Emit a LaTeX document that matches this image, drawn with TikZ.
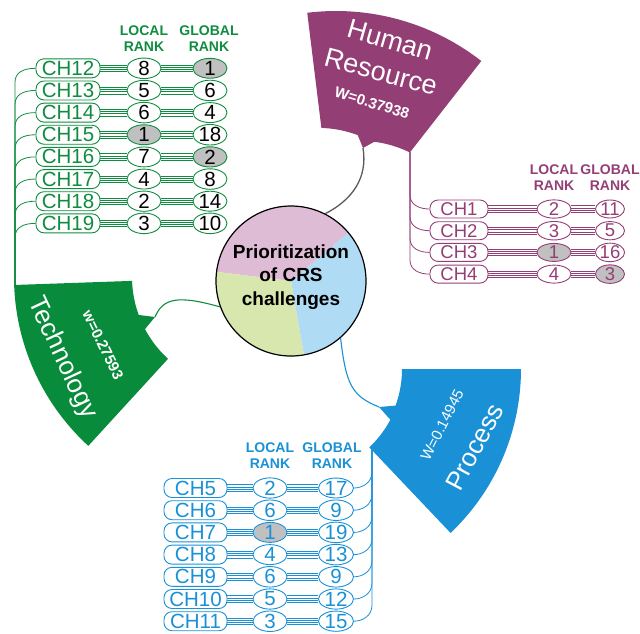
\documentclass[tikz,border=0pt]{standalone}
\usepackage{fontspec}
\setmainfont{Liberation Sans}
\usetikzlibrary{shapes.geometric,calc}
\pgfdeclarelayer{bg}
\pgfsetlayers{bg,main}
\definecolor{cg}{RGB}{16,140,64}
\definecolor{cgb}{RGB}{8,140,60}
\definecolor{cp}{RGB}{148,62,118}
\definecolor{cb}{RGB}{26,145,214}
\definecolor{gfill}{RGB}{192,192,192}
\definecolor{pk}{RGB}{222,188,213}
\definecolor{lb}{RGB}{176,219,244}
\definecolor{lg}{RGB}{215,231,174}
\definecolor{gl}{RGB}{90,90,90}
\tikzset{
 fs/.style={font=\fontsize{#1}{#1}\selectfont},
 chbox/.style={draw=#1, text=#1, fill=white, rounded corners=8pt, minimum height=19pt, inner sep=0pt, line width=0.9pt},
 rk/.style={draw=#1, ellipse, minimum height=18pt, inner sep=0pt, line width=0.9pt},
 hdr/.style={align=center, font=\fontsize{14}{16}\selectfont\bfseries},
 bund/.style={line width=0.45pt},
 fan/.style={line width=0.8pt},
 wtext/.style={text=white, inner sep=0pt},
}
\begin{document}
\begin{tikzpicture}[x=1pt,y=-1pt]
\useasboundingbox (0,0) rectangle (640,633);

% ---------- central pie ----------
\fill[pk] (291,281) -- plot[domain=40:173,samples=40] ({291+75*cos(\x)},{281-75*sin(\x)}) -- cycle;
\fill[lg] (291,281) -- plot[domain=173:280,samples=40] ({291+75*cos(\x)},{281-75*sin(\x)}) -- cycle;
\fill[lb] (291,281) -- plot[domain=280:400,samples=40] ({291+75*cos(\x)},{281-75*sin(\x)}) -- cycle;
\node[circle, draw, line width=1.2pt, minimum size=150pt, inner sep=0pt] (pie) at (291,281) {};
\node[font=\fontsize{19}{23.5}\selectfont\bfseries, align=center] (ptxt) at (291,277) {Prioritization\\of CRS\\challenges};

% ---------- Technology banner ----------
\fill[cgb] plot[domain=227.5:182,samples=40] ({243+229*cos(\x)},{277-229*sin(\x)})
  -- plot[domain=182:200,samples=12] ({243+111*cos(\x)},{277-111*sin(\x)})
  -- (155,317)
  -- plot[domain=208:227.5,samples=12] ({243+111*cos(\x)},{277-111*sin(\x)}) -- cycle;
\coordinate (ttip) at (155,317);
\coordinate (troot) at (15,285);
\node[wtext, fs=26, rotate=-65] (ttech) at (62,358) {Technology};
\node[wtext, font=\fontsize{15}{15}\selectfont\bfseries, rotate=-64] (tw) at (103,345) {w=0.27593};

% ---------- Human Resource banner ----------
\fill[cp] plot[domain=97:52,samples=40] ({336+236*cos(\x)},{247-236*sin(\x)})
  -- plot[domain=52:70,samples=12] ({336+(120-8*(\x-52)/18)*cos(\x)},{247-(120-8*(\x-52)/18)*sin(\x)})
  -- (363,148)
  -- plot[domain=79:97,samples=12] ({336+(114+6*(\x-79)/18)*cos(\x)},{247-(114+6*(\x-79)/18)*sin(\x)}) -- cycle;
\coordinate (htip) at (363,148);
\coordinate (hroot) at (410,152);
\node[wtext, fs=27, rotate=-16] (hhum) at (390,40) {Human};
\node[wtext, fs=27, rotate=-15] (hres) at (381,72) {Resource};
\node[wtext, font=\fontsize{15}{15}\selectfont\bfseries, rotate=-17] (hw) at (372,103) {W=0.37938};

% ---------- Process banner ----------
\fill[cb] plot[domain=0:-46.5,samples=40] ({295+226*cos(\x)},{369-226*sin(\x)})
  -- plot[domain=-46.5:-28,samples=12] ({295+108*cos(\x)},{369-108*sin(\x)})
  -- (379,407)
  -- plot[domain=-20:0,samples=12] ({295+107*cos(\x)},{369-107*sin(\x)}) -- cycle;
\coordinate (ptip) at (379,407);
\coordinate (proot) at (372,449);
\node[wtext, fs=26, rotate=62] (pproc) at (475,447) {Process};
\node[wtext, fs=15, rotate=63] (pw) at (442,425) {W=0.14945};

% ---------- banner to circle ----------
\draw[cg, line width=1.1pt] (ttip) .. controls (163,298) and (178,295) .. (pie.200);
\draw[gl, line width=1.3pt] (htip) .. controls (368,178) and (352,200) .. (pie.63);
\draw[cb, line width=1.1pt] (pie.-49) .. controls (346,385) and (352,396) .. (ptip);

% ---------- Technology table ----------
\node[hdr, text=cg] (gh1) at (144,39) {LOCAL\\RANK};
\node[hdr, text=cg] (gh2) at (209,39) {GLOBAL\\RANK};
\foreach \n/\l/\g/\lf/\gf [count=\i from 0] in {12/8/1/white/gfill, 13/5/6/white/white, 14/6/4/white/white, 15/1/18/gfill/white, 16/7/2/white/gfill, 17/4/8/white/white, 18/2/14/white/white, 19/3/10/white/white}{
  \node[chbox=cg, minimum width=64pt, fs=20.5] (gc\n) at (68,{68.3+22.15*\i}) {CH\n};
  \node[rk=cg, fill=\lf, minimum width=34pt, text=black, fs=20.5] (gl\n) at (144,{68.3+22.15*\i}) {\l};
  \node[rk=cg, fill=\gf, minimum width=34pt, text=black, fs=20.5] (gg\n) at (210,{68.3+22.15*\i}) {\g};
  \begin{pgfonlayer}{bg}
  \foreach \o in {-3.3,-1.1,1.1,3.3}{
    \draw[bund, cg] ([yshift=\o pt]gc\n.east) -- ([yshift=\o pt]gl\n.west);
    \draw[bund, cg] ([yshift=\o pt]gl\n.east) -- ([yshift=\o pt]gg\n.west);
  }
  \draw[fan, cg] (troot) -- ($(troot |- gc\n.west)+(0,14)$) .. controls ($(troot |- gc\n.west)+(0,4)$) and ($(gc\n.west)+(-12,0)$) .. (gc\n.west);
  \end{pgfonlayer}
}

% ---------- Human Resource table ----------
\node[hdr, text=cp] (ph1) at (554,178) {LOCAL\\RANK};
\node[hdr, text=cp] (ph2) at (610,178) {GLOBAL\\RANK};
\foreach \n/\l/\g/\lf/\gf [count=\i from 0] in {1/2/11/white/white, 2/3/5/white/white, 3/1/16/gfill/white, 4/4/3/white/gfill}{
  \node[chbox=cp, minimum width=58pt, minimum height=18pt, fs=18.5] (hc\n) at (459,{209+21.7*\i}) {CH\n};
  \node[rk=cp, fill=\lf, text=cp, minimum width=34pt, minimum height=17pt, fs=18.5] (hl\n) at (554,{209+21.7*\i}) {\l};
  \node[rk=cp, fill=\gf, text=cp, minimum width=29pt, minimum height=17pt, fs=18.5] (hg\n) at (610,{209+21.7*\i}) {\g};
  \begin{pgfonlayer}{bg}
  \foreach \o in {-3.3,-1.1,1.1,3.3}{
    \draw[bund, cp] ([yshift=\o pt]hc\n.east) -- ([yshift=\o pt]hl\n.west);
    \draw[bund, cp] ([yshift=\o pt]hl\n.east) -- ([yshift=\o pt]hg\n.west);
  }
  \draw[fan, cp] (hroot) -- ($(hroot |- hc\n.west)+(0,-14)$) .. controls ($(hroot |- hc\n.west)+(0,-4)$) and ($(hc\n.west)+(-10,0)$) .. (hc\n.west);
  \end{pgfonlayer}
}

% ---------- Process table ----------
\node[hdr, text=cb] (bh1) at (270,456) {LOCAL\\RANK};
\node[hdr, text=cb] (bh2) at (332,456) {GLOBAL\\RANK};
\foreach \n/\l/\g/\lf [count=\i from 0] in {5/2/17/white, 6/6/9/white, 7/1/19/gfill, 8/4/13/white, 9/6/9/white, 10/5/12/white, 11/3/15/white}{
  \node[chbox=cb, minimum width=63pt, fs=20.5] (bc\n) at (195.5,{488+22.2*\i}) {CH\n};
  \node[rk=cb, fill=\lf, text=cb, minimum width=34pt, fs=20.5] (bl\n) at (270,{488+22.2*\i}) {\l};
  \node[rk=cb, fill=white, text=cb, minimum width=35pt, fs=20.5] (bg\n) at (336,{488+22.2*\i}) {\g};
  \begin{pgfonlayer}{bg}
  \foreach \o in {-3.3,-1.1,1.1,3.3}{
    \draw[bund, cb] ([yshift=\o pt]bc\n.east) -- ([yshift=\o pt]bl\n.west);
    \draw[bund, cb] ([yshift=\o pt]bl\n.east) -- ([yshift=\o pt]bg\n.west);
  }
  \draw[fan, cb] (proot) -- ($(proot |- bg\n.east)+(0,-16)$) .. controls ($(proot |- bg\n.east)+(0,-5)$) and ($(bg\n.east)+(8,0)$) .. (bg\n.east);
  \end{pgfonlayer}
}
\end{tikzpicture}
\end{document}
